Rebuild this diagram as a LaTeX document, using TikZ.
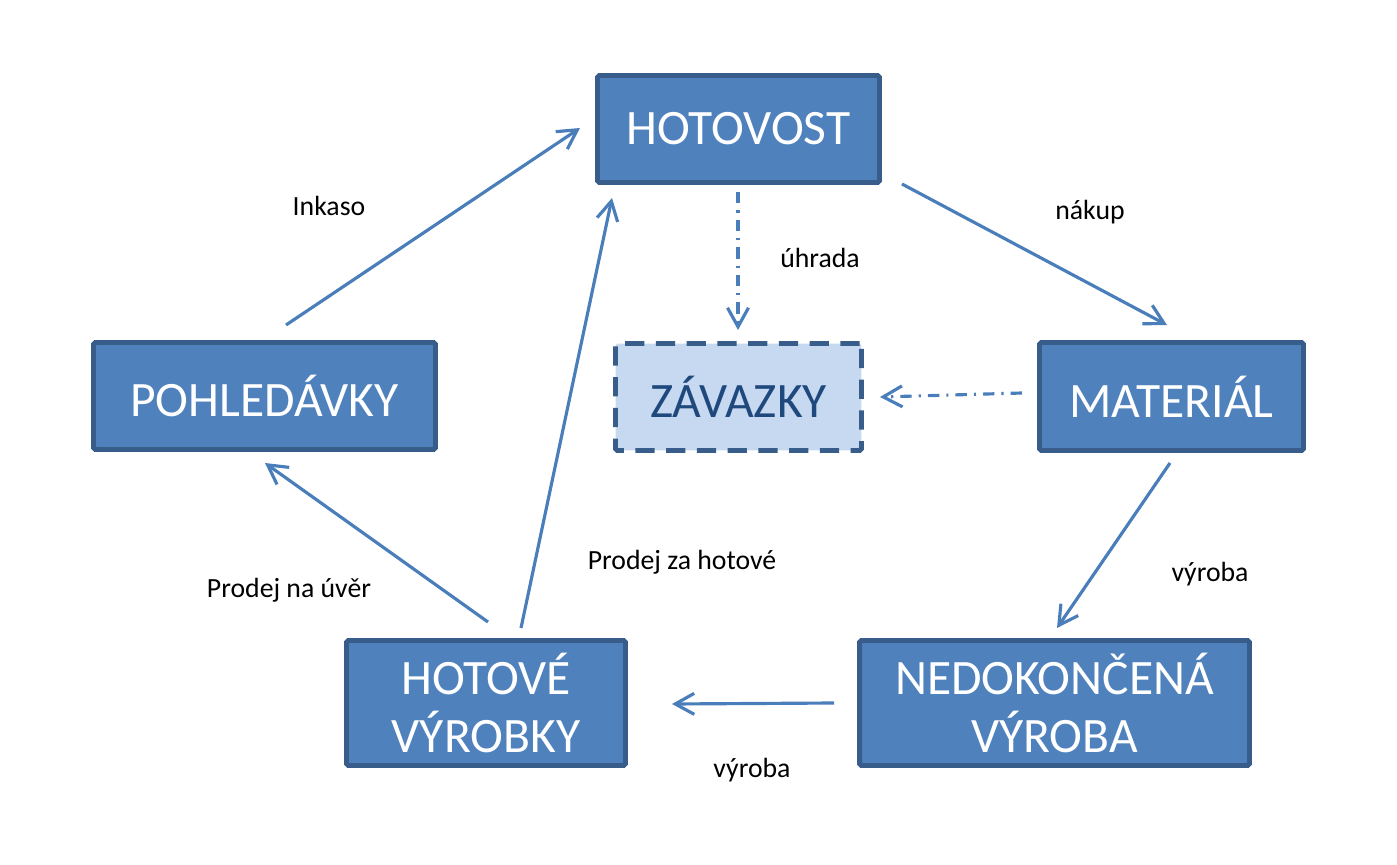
\documentclass[tikz,border=0pt]{standalone}
\usepackage{fontspec}
\setmainfont{Carlito}
\usetikzlibrary{arrows.meta}
\definecolor{boxfill}{HTML}{4F81BD}
\definecolor{boxline}{HTML}{385D8A}
\definecolor{flowcol}{HTML}{4A7EBB}
\definecolor{debtfill}{HTML}{C6D9F1}
\definecolor{debttext}{HTML}{1F497D}
\begin{document}
\begin{tikzpicture}[x=0.02cm, y=-0.02cm,
    stock/.style={draw=boxline, fill=boxfill, line width=2.8pt, rounded corners=1pt,
        text=white, align=center, inner sep=0pt, font=\fontsize{28.2}{32.5}\selectfont},
    flow/.style={draw=flowcol, line width=1.8pt, -{Straight Barb[length=3.8mm,width=4.2mm]}},
    dotflow/.style={flow, dash pattern={on 6.5pt off 4pt on 1.2pt off 4pt}},
    lbl/.style={font=\fontsize{15.8}{19}\selectfont}]
    \useasboundingbox (0,0) rectangle (1397,865);
    % Boxes
    \node[stock, minimum width=5.64cm, minimum height=2.14cm] (hotovost) at (738.5,129) {HOTOVOST};
    \node[stock, minimum width=6.84cm, minimum height=2.14cm] (pohledavky) at (264.5,396) {POHLEDÁVKY};
    \node[stock, minimum width=4.92cm, minimum height=2.14cm, fill=debtfill, text=debttext,
        dash pattern={on 11pt off 6.5pt}] (zavazky) at (738.5,397) {ZÁVAZKY};
    \node[stock, minimum width=5.28cm, minimum height=2.16cm] (material) at (1171.5,396.5) {MATERIÁL};
    \node[stock, minimum width=5.58cm, minimum height=2.5cm] (hotove) at (486,703) {HOTOVÉ\\VÝROBKY};
    \node[stock, minimum width=7.8cm, minimum height=2.5cm] (nedokoncena) at (1054.5,703) {NEDOKONČENÁ\\VÝROBA};
    % Free ends of the flows
    \coordinate (inkasoA) at (286,325);
    \coordinate (inkasoB) at (580,128);
    \coordinate (hotoveA) at (521,628);
    \coordinate (hotoveB) at (612,198);
    \coordinate (uverA) at (488,622);
    \coordinate (uverB) at (265,463);
    \coordinate (nakupA) at (902,184);
    \coordinate (nakupB) at (1167,325);
    \coordinate (uhradaA) at (738,192);
    \coordinate (uhradaB) at (738,330);
    \coordinate (dluhA) at (1022,393);
    \coordinate (dluhB) at (880,397);
    \coordinate (vyrobaA) at (1170,463);
    \coordinate (vyrobaB) at (1057,628);
    \coordinate (hotovaA) at (834,703);
    \coordinate (hotovaB) at (672,704);
    % Flows
    \draw[flow] (inkasoA) -- (inkasoB);
    \draw[flow] (hotoveA) -- (hotoveB);
    \draw[flow] (uverA) -- (uverB);
    \draw[flow] (nakupA) -- (nakupB);
    \draw[dotflow] (uhradaA) -- (uhradaB);
    \draw[dotflow] (dluhA) -- (dluhB);
    \draw[flow] (vyrobaA) -- (vyrobaB);
    \draw[flow] (hotovaA) -- (hotovaB);
    % Labels
    \node[lbl] (inkaso) at (329,206) {Inkaso};
    \node[lbl] (zahotove) at (682,562) {Prodej za hotové};
    \node[lbl] (nauver) at (289,590) {Prodej na úvěr};
    \node[lbl] (nakup) at (1090,212) {nákup};
    \node[lbl] (uhrada) at (820,258) {úhrada};
    \node[lbl] (vyroba1) at (1210,574) {výroba};
    \node[lbl] (vyroba2) at (752,770) {výroba};
\end{tikzpicture}
\end{document}
